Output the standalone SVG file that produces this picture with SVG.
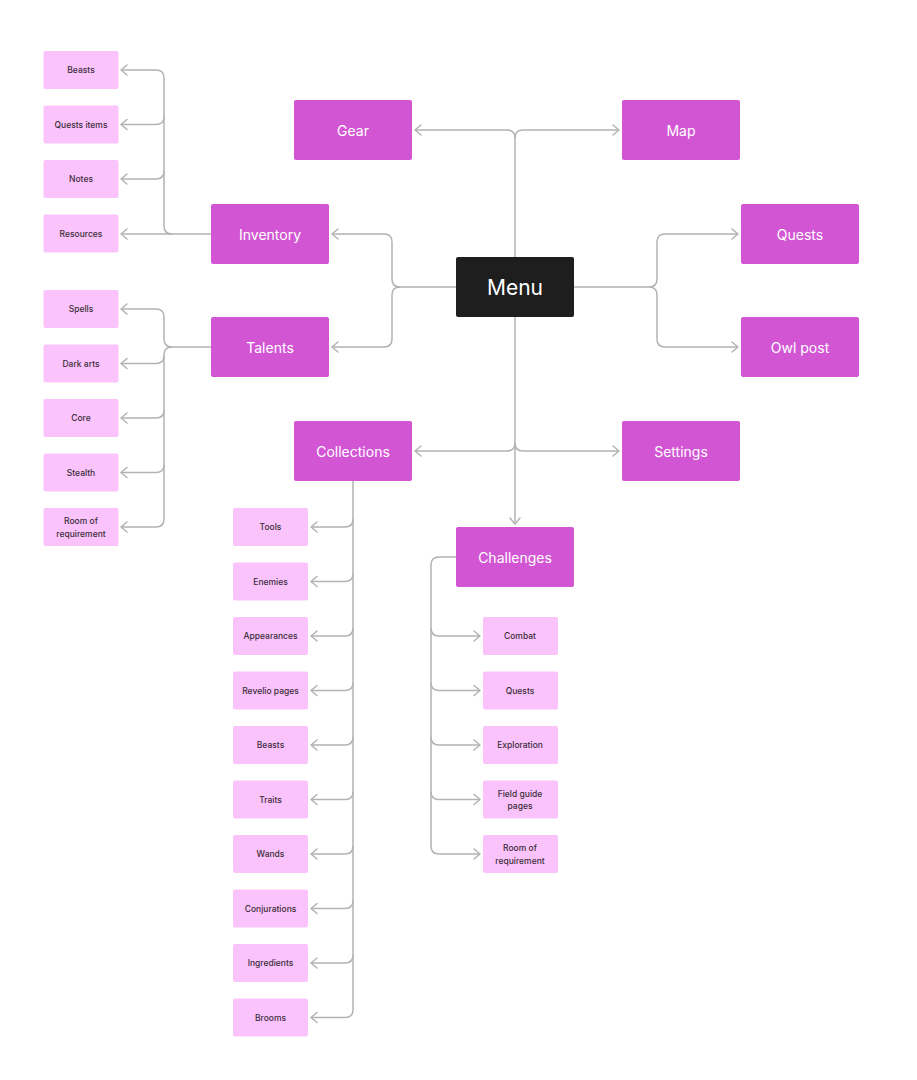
<svg xmlns="http://www.w3.org/2000/svg" width="917" height="1080" viewBox="0 0 917 1080">
<defs>
<marker id="ah" markerUnits="userSpaceOnUse" markerWidth="12" markerHeight="12" viewBox="-8 -6 10 12" refX="0" refY="0" orient="auto">
<path d="M-6,-5 L0,0 L-6,5" fill="none" stroke="#b3b3b3" stroke-width="1.5" stroke-linecap="round" stroke-linejoin="round"/>
</marker>
<style>
.bg{fill:#ffffff}
.main rect{fill:#d256d4;rx:2px}
.main text{fill:#ffffff;font-family:Inter,"Liberation Sans",sans-serif;font-size:14px;text-anchor:middle;dominant-baseline:central}
.menu rect{fill:#1e1e1e;rx:2px}
.menu text{fill:#ffffff;font-family:Inter,"Liberation Sans",sans-serif;font-size:21px;text-anchor:middle;dominant-baseline:central}
.leaf rect{fill:#fbc3fb;rx:2px}
.leaf text{fill:#3a2d3a;font-family:Inter,"Liberation Sans",sans-serif;font-size:8.5px;font-weight:500;text-anchor:middle;dominant-baseline:central}
#connectors path{fill:none;stroke:#b3b3b3;stroke-width:1.5}
.a{marker-end:url(#ah)}
</style>
</defs>
<rect class="bg" x="0" y="0" width="917" height="1080"/>

<g id="connectors">
<!-- Menu to Gear / Map -->
<path class="a" d="M515,257 V138 Q515,130 507,130 H415"/>
<path class="a" d="M515,138 Q515,130 523,130 H619"/>
<!-- Menu to Inventory / Talents -->
<path class="a" d="M456,287 H400 Q392,287 392,279 V242 Q392,234 384,234 H332"/>
<path class="a" d="M400,287 Q392,287 392,295 V339 Q392,347 384,347 H332"/>
<!-- Menu to Quests / Owl post -->
<path class="a" d="M574,287 H649 Q657,287 657,279 V242 Q657,234 665,234 H738"/>
<path class="a" d="M649,287 Q657,287 657,295 V339 Q657,347 665,347 H738"/>
<!-- Menu down to Challenges, Collections, Settings -->
<path class="a" d="M515,317 V524"/>
<path class="a" d="M515,443 Q515,451 507,451 H415"/>
<path class="a" d="M515,443 Q515,451 523,451 H619"/>
<!-- Inventory leaves -->
<path class="a" d="M211,234 H121"/>
<path class="a" d="M172,234 Q164,234 164,226 V78 Q164,70 156,70 H121"/>
<path class="a" d="M164,116.5 Q164,124.5 156,124.5 H121"/>
<path class="a" d="M164,171 Q164,179 156,179 H121"/>
<!-- Talents leaves -->
<path class="a" d="M211,347 H172 Q164,347 164,339 V317 Q164,309 156,309 H121"/>
<path class="a" d="M172,347 Q164,347 164,355 V519 Q164,527 156,527 H121"/>
<path class="a" d="M164,355.5 Q164,363.5 156,363.5 H121"/>
<path class="a" d="M164,410 Q164,418 156,418 H121"/>
<path class="a" d="M164,464.5 Q164,472.5 156,472.5 H121"/>
<!-- Collections leaves -->
<path class="a" d="M353,481 V1009.5 Q353,1017.5 345,1017.5 H311"/>
<path class="a" d="M353,519 Q353,527 345,527 H311"/>
<path class="a" d="M353,573.5 Q353,581.5 345,581.5 H311"/>
<path class="a" d="M353,628 Q353,636 345,636 H311"/>
<path class="a" d="M353,682.5 Q353,690.5 345,690.5 H311"/>
<path class="a" d="M353,737 Q353,745 345,745 H311"/>
<path class="a" d="M353,791.5 Q353,799.5 345,799.5 H311"/>
<path class="a" d="M353,846 Q353,854 345,854 H311"/>
<path class="a" d="M353,900.5 Q353,908.5 345,908.5 H311"/>
<path class="a" d="M353,955 Q353,963 345,963 H311"/>
<!-- Challenges leaves -->
<path class="a" d="M456,557 H439 Q431,557 431,565 V846 Q431,854 439,854 H480"/>
<path class="a" d="M431,628 Q431,636 439,636 H480"/>
<path class="a" d="M431,682.5 Q431,690.5 439,690.5 H480"/>
<path class="a" d="M431,737 Q431,745 439,745 H480"/>
<path class="a" d="M431,791.5 Q431,799.5 439,799.5 H480"/>
</g>

<g id="menu" class="menu"><rect x="456" y="257" width="118" height="60"/><text x="515" y="287">Menu</text></g>
<g id="gear" class="main"><rect x="294" y="100" width="118" height="60"/><text x="353" y="130">Gear</text></g>
<g id="map" class="main"><rect x="622" y="100" width="118" height="60"/><text x="681" y="130">Map</text></g>
<g id="inventory" class="main"><rect x="211" y="204" width="118" height="60"/><text x="270" y="234">Inventory</text></g>
<g id="talents" class="main"><rect x="211" y="317" width="118" height="60"/><text x="270" y="347">Talents</text></g>
<g id="quests" class="main"><rect x="741" y="204" width="118" height="60"/><text x="800" y="234">Quests</text></g>
<g id="owlpost" class="main"><rect x="741" y="317" width="118" height="60"/><text x="800" y="347">Owl post</text></g>
<g id="collections" class="main"><rect x="294" y="421" width="118" height="60"/><text x="353" y="451">Collections</text></g>
<g id="settings" class="main"><rect x="622" y="421" width="118" height="60"/><text x="681" y="451">Settings</text></g>
<g id="challenges" class="main"><rect x="456" y="527" width="118" height="60"/><text x="515" y="557">Challenges</text></g>

<g id="inv-beasts" class="leaf"><rect x="43.5" y="51" width="75" height="38"/><text x="81" y="70">Beasts</text></g>
<g id="inv-questsitems" class="leaf"><rect x="43.5" y="105.5" width="75" height="38"/><text x="81" y="124.5">Quests items</text></g>
<g id="inv-notes" class="leaf"><rect x="43.5" y="160" width="75" height="38"/><text x="81" y="179">Notes</text></g>
<g id="inv-resources" class="leaf"><rect x="43.5" y="214.5" width="75" height="38"/><text x="81" y="233.5">Resources</text></g>

<g id="tal-spells" class="leaf"><rect x="43.5" y="290" width="75" height="38"/><text x="81" y="309">Spells</text></g>
<g id="tal-darkarts" class="leaf"><rect x="43.5" y="344.5" width="75" height="38"/><text x="81" y="363.5">Dark arts</text></g>
<g id="tal-core" class="leaf"><rect x="43.5" y="399" width="75" height="38"/><text x="81" y="418">Core</text></g>
<g id="tal-stealth" class="leaf"><rect x="43.5" y="453.5" width="75" height="38"/><text x="81" y="472.5">Stealth</text></g>
<g id="tal-room" class="leaf"><rect x="43.5" y="508" width="75" height="38"/><text x="81" y="521">Room of</text><text x="81" y="533.5">requirement</text></g>

<g id="col-tools" class="leaf"><rect x="233" y="508" width="75" height="38"/><text x="270.5" y="527">Tools</text></g>
<g id="col-enemies" class="leaf"><rect x="233" y="562.5" width="75" height="38"/><text x="270.5" y="581.5">Enemies</text></g>
<g id="col-appearances" class="leaf"><rect x="233" y="617" width="75" height="38"/><text x="270.5" y="636">Appearances</text></g>
<g id="col-revelio" class="leaf"><rect x="233" y="671.5" width="75" height="38"/><text x="270.5" y="690.5">Revelio pages</text></g>
<g id="col-beasts" class="leaf"><rect x="233" y="726" width="75" height="38"/><text x="270.5" y="745">Beasts</text></g>
<g id="col-traits" class="leaf"><rect x="233" y="780.5" width="75" height="38"/><text x="270.5" y="799.5">Traits</text></g>
<g id="col-wands" class="leaf"><rect x="233" y="835" width="75" height="38"/><text x="270.5" y="854">Wands</text></g>
<g id="col-conjurations" class="leaf"><rect x="233" y="889.5" width="75" height="38"/><text x="270.5" y="908.5">Conjurations</text></g>
<g id="col-ingredients" class="leaf"><rect x="233" y="944" width="75" height="38"/><text x="270.5" y="963">Ingredients</text></g>
<g id="col-brooms" class="leaf"><rect x="233" y="998.5" width="75" height="38"/><text x="270.5" y="1017.5">Brooms</text></g>

<g id="ch-combat" class="leaf"><rect x="483" y="617" width="75" height="38"/><text x="520" y="636">Combat</text></g>
<g id="ch-quests" class="leaf"><rect x="483" y="671.5" width="75" height="38"/><text x="520" y="690.5">Quests</text></g>
<g id="ch-exploration" class="leaf"><rect x="483" y="726" width="75" height="38"/><text x="520" y="745">Exploration</text></g>
<g id="ch-fieldguide" class="leaf"><rect x="483" y="780.5" width="75" height="38"/><text x="520" y="793.5">Field guide</text><text x="520" y="806">pages</text></g>
<g id="ch-room" class="leaf"><rect x="483" y="835" width="75" height="38"/><text x="520" y="848">Room of</text><text x="520" y="860.5">requirement</text></g>
</svg>
